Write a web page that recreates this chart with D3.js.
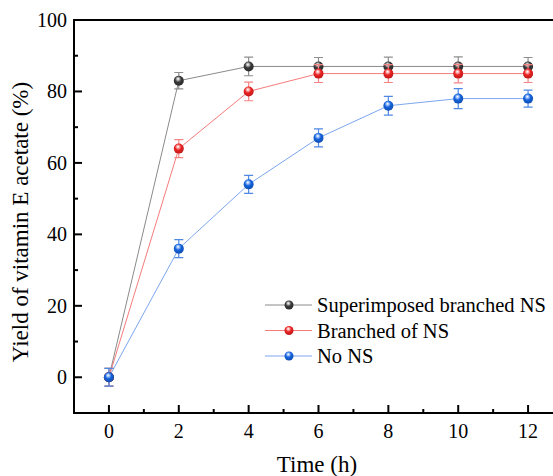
<!DOCTYPE html>
<html>
<head>
<meta charset="utf-8">
<script src="https://cdn.jsdelivr.net/npm/d3@7"></script>
</head>
<body style="margin:0; background:#fff">
<script>
const times = [0, 2, 4, 6, 8, 10, 12]
const seriesNames = ["Superimposed branched NS", "Branched of NS", "No NS"]
const superimposed = [0, 83, 87, 87, 87, 87, 87]
const branched = [0, 64, 80, 85, 85, 85, 85]
const noNS = [0, 36, 54, 67, 76, 78, 78]
const errSuperimposed = [2.5, 2.3, 2.6, 2.5, 2.6, 2.7, 2.5]
const errBranched = [2.5, 2.5, 2.6, 2.5, 2.5, 2.6, 2.5]
const errNoNS = [2.5, 2.5, 2.5, 2.5, 2.6, 2.8, 2.4]
const xTicks = [0, 2, 4, 6, 8, 10, 12]
const yTicks = [0, 20, 40, 60, 80, 100]

const W = 553, H = 476
const margin = {left: 74, top: 20, right: -10, bottom: 63}
const FONT = '"Liberation Serif", "Times New Roman", serif'

const series = [
  {name: seriesNames[0], values: superimposed, err: errSuperimposed,
   line: "#8a8a8a", err_c: "#8f8f8f", base: "#383838", hi: "#cfcfcf"},
  {name: seriesNames[1], values: branched, err: errBranched,
   line: "#f67b7b", err_c: "#f58585", base: "#ea2222", hi: "#ffc8c8"},
  {name: seriesNames[2], values: noNS, err: errNoNS,
   line: "#7ca7ee", err_c: "#4f88e4", base: "#1462dc", hi: "#b8d4ff"}
]

const x = d3.scaleLinear().domain([-1, 13]).range([margin.left, W - margin.right])
const y = d3.scaleLinear().domain([-10, 100]).range([H - margin.bottom, margin.top])

const svg = d3.select("body").append("svg")
  .attr("width", W)
  .attr("height", H)
  .style("display", "block")
  .style("font-family", FONT)

const defs = svg.append("defs")
series.forEach((s, i) => {
  const g = defs.append("radialGradient")
    .attr("id", "ball-" + i)
    .attr("cx", "45%").attr("cy", "38%").attr("r", "62%")
    .attr("fx", "42%").attr("fy", "30%")
  g.append("stop").attr("offset", "0%").attr("stop-color", "#ffffff")
  g.append("stop").attr("offset", "16%").attr("stop-color", s.hi)
  g.append("stop").attr("offset", "50%").attr("stop-color", s.base)
  g.append("stop").attr("offset", "100%").attr("stop-color", d3.color(s.base).darker(0.6))
})

// axes frame
const axisG = svg.append("g")
const x0 = x.range()[0], x1 = x.range()[1]
const yb = y(-10), yt = y(100)
axisG.append("line").attr("x1", x0).attr("x2", x1).attr("y1", yt).attr("y2", yt)
  .attr("stroke", "#000").attr("stroke-width", 2)
axisG.append("line").attr("x1", x0).attr("x2", x1).attr("y1", yb).attr("y2", yb)
  .attr("stroke", "#000").attr("stroke-width", 2)
axisG.append("line").attr("x1", x0).attr("x2", x0).attr("y1", yt - 1).attr("y2", yb + 1)
  .attr("stroke", "#000").attr("stroke-width", 2)

// x ticks (inward)
const xMinor = d3.range(-1, 14, 1).filter(v => !xTicks.includes(v) && v > -1)
axisG.selectAll(".xmaj").data(xTicks).join("line")
  .attr("x1", d => x(d)).attr("x2", d => x(d))
  .attr("y1", yb).attr("y2", yb - 8)
  .attr("stroke", "#000").attr("stroke-width", 2)
axisG.selectAll(".xmin").data(xMinor).join("line")
  .attr("x1", d => x(d)).attr("x2", d => x(d))
  .attr("y1", yb).attr("y2", yb - 4)
  .attr("stroke", "#000").attr("stroke-width", 2)
axisG.selectAll(".xlab").data(xTicks).join("text")
  .attr("x", d => x(d)).attr("y", yb + 25)
  .attr("text-anchor", "middle")
  .attr("font-size", 20)
  .style("font-family", FONT)
  .text(d => d)

// y ticks (inward)
const yMinor = d3.range(-10, 100, 10).filter(v => !yTicks.includes(v) && v > -10)
axisG.selectAll(".ymaj").data(yTicks).join("line")
  .attr("x1", x0).attr("x2", x0 + 8)
  .attr("y1", d => y(d)).attr("y2", d => y(d))
  .attr("stroke", "#000").attr("stroke-width", 2)
axisG.selectAll(".ymin").data(yMinor).join("line")
  .attr("x1", x0).attr("x2", x0 + 4)
  .attr("y1", d => y(d)).attr("y2", d => y(d))
  .attr("stroke", "#000").attr("stroke-width", 2)
axisG.selectAll(".ylab").data(yTicks).join("text")
  .attr("x", x0 - 7).attr("y", d => y(d) + 7)
  .attr("text-anchor", "end")
  .attr("font-size", 20)
  .style("font-family", FONT)
  .text(d => d)

svg.append("text")
  .attr("x", 317).attr("y", 472)
  .attr("text-anchor", "middle")
  .attr("font-size", 23)
  .style("font-family", FONT)
  .text("Time (h)")
svg.append("text")
  .attr("transform", `translate(28, 222) rotate(-90)`)
  .attr("text-anchor", "middle")
  .attr("font-size", 23)
  .style("font-family", FONT)
  .text("Yield of vitamin E acetate (%)")

// lines
const lineGen = d3.line().x(d => x(d[0])).y(d => y(d[1]))
series.forEach(s => {
  svg.append("path")
    .datum(times.map((t, i) => [t, s.values[i]]))
    .attr("fill", "none")
    .attr("stroke", s.line)
    .attr("stroke-width", 1)
    .attr("d", lineGen)
})

// error bars and markers
series.forEach((s, si) => {
  const g = svg.append("g")
  const pts = times.map((t, i) => ({t, v: s.values[i], e: s.err[i]}))
  g.selectAll(".eb").data(pts).join("path")
    .attr("fill", "none")
    .attr("stroke", s.err_c)
    .attr("stroke-width", 1.2)
    .attr("d", d => {
      const cx = x(d.t), ya = y(d.v + d.e), yb2 = y(d.v - d.e)
      return `M${cx - 4.5},${ya}H${cx + 4.5}M${cx},${ya}V${yb2}M${cx - 4.5},${yb2}H${cx + 4.5}`
    })
  g.selectAll("circle").data(pts).join("circle")
    .attr("cx", d => x(d.t))
    .attr("cy", d => y(d.v))
    .attr("r", 5)
    .attr("fill", `url(#ball-${si})`)
})

// legend
const legend = svg.append("g")
series.forEach((s, i) => {
  const ly = 305 + i * 25.5
  legend.append("line")
    .attr("x1", 265).attr("x2", 312).attr("y1", ly).attr("y2", ly)
    .attr("stroke", s.line).attr("stroke-width", 1)
  legend.append("circle")
    .attr("cx", 289).attr("cy", ly).attr("r", 4.5)
    .attr("fill", `url(#ball-${i})`)
  legend.append("text")
    .attr("x", 317).attr("y", ly + 7)
    .attr("font-size", 20.5)
    .style("font-family", FONT)
    .text(s.name)
})
</script>
</body>
</html>
